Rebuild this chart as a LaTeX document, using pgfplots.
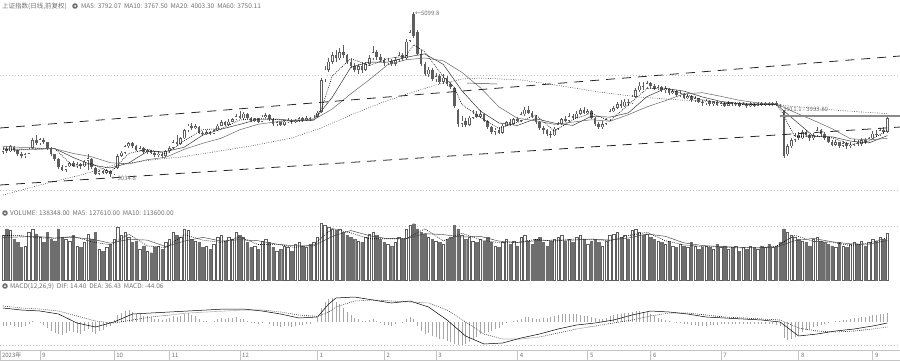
\documentclass[border=0pt]{standalone}
\usepackage{pgfplots}
\pgfplotsset{compat=1.18}
\usepackage{pgfplotstable}
\usepackage{fontspec}
\newfontfamily\cjk{Noto Sans CJK SC}
\definecolor{cdark}{HTML}{5E5E5E}
\definecolor{ctext}{HTML}{707070}
\definecolor{cgrid}{HTML}{C4C4C4}
\definecolor{cline}{HTML}{8A8A8A}

\pgfplotstableread{
i o h l c v m
0 3350 3410 3330 3390 130 -20
1 3390 3420 3340 3360 150 -20
2 3360 3440 3350 3420 145 -15
3 3410 3430 3350 3370 120 -20
4 3370 3380 3300 3330 110 -25
5 3330 3350 3270 3300 95 -25
6 3300 3340 3270 3320 100 -20
7 3330 3400 3320 3390 140 -10
8 3400 3520 3390 3500 150 5
9 3500 3560 3440 3460 135 0
10 3460 3530 3440 3510 125 -5
11 3500 3520 3450 3470 110 -15
12 3470 3480 3380 3400 140 -30
13 3400 3410 3300 3320 120 -45
14 3320 3330 3240 3260 115 -55
15 3260 3270 3140 3160 150 -60
16 3160 3190 3110 3130 125 -65
17 3130 3180 3100 3170 120 -55
18 3170 3230 3160 3210 115 -45
19 3210 3240 3160 3180 130 -50
20 3180 3220 3150 3200 100 -55
21 3200 3210 3140 3170 95 -60
22 3170 3250 3160 3230 110 -45
23 3240 3330 3120 3270 135 -35
24 3260 3270 3140 3160 120 -50
25 3150 3160 3060 3080 140 -60
26 3080 3130 3060 3110 90 -45
27 3110 3130 3070 3090 85 -40
28 3090 3140 3070 3120 95 -25
29 3110 3120 3035 3070 105 -20
30 3070 3150 3060 3140 120 10
31 3150 3320 3140 3300 155 35
32 3300 3360 3290 3340 130 45
33 3340 3440 3330 3420 140 55
34 3420 3480 3400 3460 125 60
35 3460 3480 3400 3420 110 50
36 3420 3440 3360 3380 115 40
37 3380 3420 3360 3400 90 40
38 3400 3410 3330 3350 100 30
39 3350 3390 3330 3370 85 30
40 3370 3380 3320 3340 80 25
41 3340 3360 3290 3310 95 15
42 3310 3360 3290 3330 100 15
43 3330 3350 3280 3300 90 10
44 3300 3380 3290 3360 110 15
45 3360 3420 3340 3400 120 20
46 3400 3500 3390 3470 140 30
47 3470 3560 3430 3450 130 25
48 3450 3540 3440 3520 125 30
49 3520 3640 3510 3620 150 40
50 3620 3700 3600 3680 145 45
51 3680 3710 3630 3650 120 35
52 3650 3700 3640 3670 115 30
53 3660 3670 3570 3590 110 15
54 3590 3610 3550 3570 95 5
55 3570 3620 3560 3600 100 5
56 3600 3610 3560 3580 90 0
57 3580 3640 3570 3620 105 5
58 3620 3700 3610 3680 125 15
59 3680 3750 3670 3720 130 20
60 3720 3740 3670 3690 115 15
61 3690 3760 3680 3730 125 20
62 3730 3780 3720 3760 120 20
63 3760 3830 3750 3800 140 25
64 3800 3860 3760 3770 130 15
65 3770 3850 3750 3830 125 15
66 3830 3840 3760 3780 110 5
67 3780 3790 3720 3740 95 -5
68 3740 3780 3720 3760 100 -5
69 3760 3780 3710 3730 90 -10
70 3730 3810 3720 3790 115 -5
71 3790 3840 3780 3810 120 0
72 3810 3820 3740 3760 110 -10
73 3760 3770 3680 3700 95 -20
74 3700 3740 3680 3720 85 -20
75 3720 3730 3670 3690 90 -25
76 3690 3750 3680 3730 100 -20
77 3730 3770 3710 3750 95 -20
78 3750 3760 3700 3720 85 -25
79 3720 3760 3710 3740 105 -20
80 3740 3790 3730 3770 110 -15
81 3770 3790 3730 3750 100 -15
82 3750 3800 3740 3770 95 -10
83 3770 3790 3740 3760 105 -10
84 3760 3810 3750 3790 110 0
85 3790 3860 3780 3840 125 20
86 3850 4270 3840 4250 165 70
87 4260 4420 4230 4380 160 100
88 4380 4520 4350 4480 155 115
89 4480 4600 4450 4560 150 120
90 4560 4620 4470 4520 145 100
91 4520 4650 4500 4600 150 90
92 4600 4690 4520 4560 140 70
93 4560 4580 4450 4480 130 50
94 4480 4510 4400 4430 125 35
95 4430 4460 4350 4380 120 20
96 4380 4450 4330 4420 115 15
97 4420 4470 4340 4380 110 5
98 4380 4480 4360 4450 125 5
99 4450 4560 4430 4520 135 10
100 4520 4680 4500 4600 140 15
101 4600 4620 4500 4540 130 5
102 4540 4570 4470 4500 120 -5
103 4500 4530 4420 4460 110 -15
104 4460 4520 4440 4490 105 -15
105 4490 4510 4420 4450 100 -20
106 4450 4540 4430 4500 110 -10
107 4500 4600 4480 4560 125 0
108 4560 4590 4490 4520 120 -5
109 4520 4760 4500 4730 150 15
110 4740 4880 4720 4850 160 25
111 5070 5100 4780 4800 165 15
112 4850 4880 4560 4580 150 -20
113 4580 4620 4420 4450 140 -45
114 4450 4480 4300 4320 135 -60
115 4320 4410 4290 4380 125 -55
116 4380 4400 4240 4260 120 -70
117 4260 4340 4220 4300 115 -75
118 4300 4330 4200 4230 110 -85
119 4230 4320 4200 4280 105 -85
120 4280 4300 4170 4200 120 -95
121 4200 4230 4140 4160 125 -100
122 4150 4160 3900 3920 160 -110
123 3880 3890 3660 3700 150 -115
124 3700 3800 3660 3740 130 -115
125 3740 3780 3660 3690 120 -110
126 3690 3800 3680 3780 125 -100
127 3780 3880 3760 3830 115 -85
128 3830 3860 3770 3790 110 -75
129 3790 3870 3770 3820 120 -60
130 3820 3830 3720 3740 115 -55
131 3740 3750 3640 3660 125 -50
132 3660 3680 3580 3600 110 -45
133 3600 3650 3560 3630 100 -35
134 3630 3660 3570 3590 95 -30
135 3590 3700 3580 3680 110 -15
136 3680 3740 3670 3720 120 -5
137 3720 3760 3680 3700 105 0
138 3700 3780 3690 3760 115 5
139 3760 3790 3720 3740 100 10
140 3740 3850 3730 3820 125 15
141 3820 3910 3800 3880 130 25
142 3880 3920 3820 3840 115 25
143 3840 3860 3780 3800 105 20
144 3800 3810 3700 3720 120 15
145 3720 3740 3630 3650 125 15
146 3650 3680 3580 3620 110 20
147 3620 3640 3550 3580 100 20
148 3580 3610 3525 3560 115 25
149 3560 3660 3550 3640 120 30
150 3640 3720 3630 3700 125 35
151 3700 3780 3690 3760 130 40
152 3760 3800 3720 3740 115 40
153 3740 3840 3730 3800 120 40
154 3800 3830 3750 3780 110 40
155 3780 3860 3770 3830 125 40
156 3830 3900 3810 3870 130 35
157 3870 3910 3820 3840 120 30
158 3840 3890 3820 3860 105 30
159 3860 3870 3760 3780 115 25
160 3780 3790 3680 3700 120 20
161 3700 3720 3640 3660 110 15
162 3660 3740 3640 3700 100 15
163 3700 3780 3690 3760 115 20
164 3760 3890 3740 3860 130 30
165 3860 3930 3850 3900 135 35
166 3900 3980 3890 3950 140 40
167 3950 4000 3900 3920 125 40
168 3920 4010 3910 3980 130 45
169 3980 4010 3930 3960 120 45
170 3960 4060 3950 4040 145 50
171 4040 4150 4020 4120 150 55
172 4120 4220 4100 4180 140 55
173 4180 4230 4130 4160 130 50
174 4160 4240 4140 4210 135 50
175 4210 4230 4150 4180 125 40
176 4180 4200 4120 4140 120 30
177 4140 4190 4120 4160 115 20
178 4160 4180 4100 4120 110 15
179 4120 4170 4090 4140 105 10
180 4140 4150 4060 4090 115 5
181 4090 4140 4070 4110 100 0
182 4110 4120 4040 4060 95 -5
183 4060 4110 4040 4080 105 -5
184 4080 4090 4010 4030 100 -10
185 4030 4080 4010 4050 95 -10
186 4050 4060 3980 4000 110 -15
187 4000 4050 3980 4020 100 -15
188 4020 4030 3960 3980 90 -20
189 3980 4000 3930 3960 95 -20
190 3960 4010 3940 3990 100 -20
191 3990 4000 3930 3950 95 -15
192 3950 3990 3930 3970 90 -15
193 3970 3990 3920 3940 105 -15
194 3940 3980 3920 3960 95 -10
195 3960 3970 3910 3930 100 -10
196 3930 3990 3920 3970 90 -10
197 3970 3980 3930 3950 95 -10
198 3950 3980 3930 3960 100 -10
199 3960 3970 3910 3930 85 -10
200 3930 3970 3920 3950 95 -10
201 3950 3960 3900 3920 90 -10
202 3920 3970 3910 3950 100 -10
203 3950 3960 3910 3930 95 -10
204 3930 3980 3920 3960 90 -10
205 3960 3970 3920 3940 100 -10
206 3940 3980 3930 3960 95 -10
207 3960 3970 3920 3940 105 -10
208 3940 3980 3930 3960 95 -10
209 3960 3990 3920 3940 100 -15
210 3940 3950 3910 3930 110 -20
211 3870 3880 3280 3300 150 -80
212 3320 3450 3300 3420 140 -90
213 3420 3530 3400 3500 130 -85
214 3500 3590 3480 3560 125 -75
215 3560 3600 3500 3520 120 -65
216 3520 3630 3510 3600 115 -50
217 3600 3620 3540 3560 110 -40
218 3560 3580 3490 3520 100 -35
219 3520 3590 3500 3560 120 -25
220 3560 3660 3550 3620 125 -20
221 3620 3640 3550 3580 115 -15
222 3580 3600 3500 3520 110 -10
223 3520 3540 3460 3480 105 -5
224 3480 3500 3420 3440 100 0
225 3440 3500 3420 3470 95 5
226 3470 3480 3400 3430 110 5
227 3430 3490 3410 3460 100 10
228 3460 3470 3390 3420 95 10
229 3420 3470 3400 3440 105 15
230 3440 3510 3420 3480 110 20
231 3480 3500 3430 3450 105 20
232 3450 3520 3430 3500 115 25
233 3500 3520 3450 3470 100 25
234 3470 3540 3460 3520 110 30
235 3520 3610 3510 3580 120 35
236 3580 3620 3540 3560 115 35
237 3560 3650 3550 3620 125 40
238 3620 3660 3580 3600 120 40
239 3600 3790 3590 3770 138 45
}\prices

\pgfplotstableread{
i v
0 3380
4 3374
9 3394
14 3392
19 3170
24 3206
29 3094
34 3332
39 3384
44 3328
49 3492
54 3632
59 3640
64 3750
69 3768
74 3756
79 3726
84 3768
86 3882
89 4302
94 4518
99 4430
104 4518
109 4552
111 4692
114 4600
119 4290
122 4158
124 3944
129 3782
134 3644
139 3720
144 3812
149 3610
154 3756
159 3836
164 3736
169 3942
174 4142
179 4148
184 4074
189 4002
194 3962
199 3948
204 3942
209 3948
211 3814
212 3710
214 3542
219 3552
224 3528
229 3444
234 3484
239 3626
}\maFive

\pgfplotstableread{
i v
0 3390
4 3385
9 3384
14 3393
19 3281
24 3188
29 3150
34 3213
39 3358
44 3356
49 3410
54 3562
59 3636
64 3695
69 3759
74 3762
79 3741
84 3747
89 4035
94 4410
99 4474
104 4474
109 4535
114 4576
119 4445
124 4117
129 3863
134 3713
139 3682
144 3766
149 3711
154 3683
159 3796
164 3786
169 3839
174 4042
179 4145
184 4111
189 4038
194 3982
199 3955
204 3945
209 3945
214 3745
219 3547
224 3540
229 3486
234 3464
239 3555
}\maTen

\pgfplotstableread{
i v
0 3420
4 3410
9 3400
14 3390
19 3332
24 3290
29 3216
34 3200
39 3254
44 3284
49 3384
54 3459
59 3523
64 3628
69 3697
74 3728
79 3750
84 3754
89 3888
94 4078
99 4254
104 4442
109 4504
114 4525
119 4490
124 4346
129 4154
134 3915
139 3772
144 3740
149 3696
154 3724
159 3753
164 3734
169 3817
174 3914
179 3992
184 4076
189 4092
194 4046
199 3996
204 3964
209 3950
214 3845
219 3746
224 3642
229 3516
234 3502
239 3520
}\maTwenty

\pgfplotstableread{
i v
0 2812
10 2937
21 3062
30 3187
40 3250
48 3287
57 3350
67 3425
78 3525
86 3650
94 3812
102 3962
110 4087
117 4187
124 4262
129 4275
140 4250
151 4175
161 4100
172 4037
183 4000
194 3975
205 3950
210 3937
221 3887
232 3850
239 3830
}\maSixty

\pgfplotstableread{
i a b
0 130 125
4 131 126
9 124 128
14 122 123
19 128 125
24 112 120
29 103 108
34 134 119
39 100 117
44 95 98
49 133 114
54 117 125
59 110 114
64 126 118
69 104 115
74 105 105
79 95 100
84 104 100
89 151 128
94 138 145
99 121 130
104 121 121
109 121 121
114 150 136
119 115 133
124 137 126
129 118 128
134 109 114
139 110 110
144 119 115
149 114 117
154 120 117
159 119 120
164 115 117
169 130 123
174 140 135
179 115 128
184 103 109
189 98 101
194 97 98
199 94 96
204 94 94
209 99 97
214 131 115
219 113 122
224 111 112
229 101 106
234 108 105
239 124 116
}\vma

\pgfplotstableread{
i dif dea
0 70 80
5 60 70
10 55 65
15 40 55
20 -5 30
25 -25 5
30 0 -5
35 40 10
40 45 25
45 50 35
50 55 45
55 60 50
60 65 55
65 65 60
70 55 60
75 40 50
80 20 35
85 25 28
88 90 50
90 120 75
95 125 105
100 110 110
105 95 105
110 105 100
115 75 95
120 10 60
125 -70 0
130 -110 -60
135 -105 -85
140 -80 -85
145 -60 -75
150 -35 -55
155 -15 -35
160 -5 -20
165 10 -5
170 35 10
175 55 30
180 50 45
185 40 45
190 25 35
195 20 25
200 15 20
205 10 15
210 0 10
215 -70 -30
220 -60 -45
225 -45 -50
230 -35 -45
235 -20 -35
239 -5 -25
}\macd

\pgfplotstableread{
i t
10 1
30 1
45 1
64 1
85 1
103 1
117 1
139 1
158 1
175 1
194 1
215 1
235 1
}\months

\begin{document}
\begin{tikzpicture}
\useasboundingbox (0pt,0pt) rectangle (900pt,360pt);
\pgfplotsset{panel/.style={scale only axis, width=900pt, xmin=-0.8, xmax=242.4, hide axis, anchor=north west}}
\tikzset{lbl/.style={anchor=west, inner sep=0pt, text=ctext, font=\cjk\fontsize{6.5}{7}\selectfont}}

% grid lines
\draw[cgrid, line width=0.5pt, dash pattern=on 1pt off 2pt] (0pt,285pt) -- (900pt,285pt);
\draw[cgrid, line width=0.5pt, dash pattern=on 1pt off 2pt] (0pt,170pt) -- (900pt,170pt);
\draw[cgrid, line width=0.5pt, dash pattern=on 1pt off 2pt] (0pt,134pt) -- (900pt,134pt);
\draw[cgrid, line width=0.5pt, dash pattern=on 1pt off 2pt] (0pt,15pt) -- (900pt,15pt);

% ---------------- price panel
\begin{axis}[panel, at={(0pt,360pt)}, height=205pt, ymin=2687.5, ymax=5250]
\addplot[forget plot, draw=none, error bars/.cd, y dir=plus, y explicit, error mark=none,
  error bar style={draw=cdark, line width=0.6pt}]
  table[x=i, y=l, y error expr=\thisrow{h}-\thisrow{l}] {\prices};
\addplot[forget plot, draw=none, error bars/.cd, y dir=plus, y explicit, error mark=none,
  error bar style={draw=cdark, line width=2.6pt}]
  table[x=i, y expr={min(\thisrow{o},\thisrow{c})}, y error expr={abs(\thisrow{c}-\thisrow{o})}] {\prices};
\addplot[forget plot, draw=none, restrict expr to domain={\thisrow{c}-\thisrow{o}}{15:100000},
  error bars/.cd, y dir=plus, y explicit, error mark=none,
  error bar style={draw=white, line width=1.4pt}]
  table[x=i, y expr={\thisrow{o}+7}, y error expr={\thisrow{c}-\thisrow{o}-14}] {\prices};
% moving averages
\addplot[black, line width=0.6pt, dash pattern=on 0.8pt off 1.2pt] table[x=i,y=v] {\maFive};
\addplot[black!85, line width=0.45pt] table[x=i,y=v] {\maTen};
\addplot[black!60, line width=0.5pt] table[x=i,y=v] {\maTwenty};
\addplot[black!80, line width=0.5pt, dash pattern=on 0.8pt off 1.5pt] table[x=i,y=v] {\maSixty};
\addplot[black!70, line width=0.5pt] coordinates {(125.4,4212) (133.5,4200)};
% channel lines
\addplot[black!85, line width=0.8pt, dash pattern=on 9pt off 7pt] coordinates {(-0.8,3650) (242.4,4550)};
\addplot[black!85, line width=0.8pt, dash pattern=on 9pt off 7pt] coordinates {(-0.8,2937.5) (242.4,3662)};
% annotation line at right
\addplot[cline, line width=2.6pt] coordinates {(210,3800) (242.4,3800)};
\node[lbl, font=\cjk\fontsize{6}{7}\selectfont] at (axis cs:111.3,5085) {←5099.8};
\node[lbl, font=\cjk\fontsize{6}{7}\selectfont] at (axis cs:29.3,3025) {←3034.8};
\node[lbl, font=\cjk\fontsize{6}{7}\selectfont] at (axis cs:210.8,3887) {3911.1 - 3933.80};
\end{axis}

% ---------------- volume panel
\begin{axis}[panel, at={(0pt,138pt)}, height=58pt, ymin=0, ymax=170]
\addplot[forget plot, ybar, bar width=2.4pt, bar shift=0pt, fill=cdark!90, draw=cdark!90, line width=0.4pt,
  restrict expr to domain={\thisrow{c}-\thisrow{o}}{-100000:-0.5}] table[x=i,y=v] {\prices};
\addplot[forget plot, ybar, bar width=2.4pt, bar shift=0pt, fill=white, draw=cdark, line width=0.5pt,
  restrict expr to domain={\thisrow{c}-\thisrow{o}}{0:100000}] table[x=i,y=v] {\prices};
\addplot[black, line width=0.6pt, dash pattern=on 0.8pt off 1.2pt] table[x=i,y=a] {\vma};
\addplot[black!75, line width=0.45pt] table[x=i,y=b] {\vma};
\end{axis}

% ---------------- MACD panel
\begin{axis}[panel, at={(0pt,70pt)}, height=56pt, ymin=-120, ymax=160]
\addplot[forget plot, ycomb, draw=black!35, line width=0.5pt] table[x=i,y=m] {\prices};
\addplot[black, line width=0.5pt] table[x=i,y=dif] {\macd};
\addplot[black!80, line width=0.6pt, dash pattern=on 0.8pt off 1.2pt] table[x=i,y=dea] {\macd};
\end{axis}

% ---------------- date strip
\begin{axis}[scale only axis, width=900pt, height=10pt, at={(0pt,10pt)}, anchor=north west,
  xmin=-0.8, xmax=242.4, ymin=0, ymax=1, xtick=\empty, ytick=\empty,
  axis line style={cgrid}]
\addplot[forget plot, ycomb, draw=cgrid, line width=0.5pt] table[x=i,y=t] {\months};
\tikzset{dl/.style={anchor=west, inner sep=0pt, text=ctext, font=\cjk\fontsize{6}{6}\selectfont}}
\node[dl] at (axis cs:-0.3,0.5) {2023年};
\node[dl] at (axis cs:10.5,0.5) {9};
\node[dl] at (axis cs:30.6,0.5) {10};
\node[dl] at (axis cs:45.6,0.5) {11};
\node[dl] at (axis cs:64.6,0.5) {12};
\node[dl] at (axis cs:85.6,0.5) {1};
\node[dl] at (axis cs:103.6,0.5) {2};
\node[dl] at (axis cs:117.6,0.5) {3};
\node[dl] at (axis cs:139.6,0.5) {4};
\node[dl] at (axis cs:158.6,0.5) {5};
\node[dl] at (axis cs:175.6,0.5) {6};
\node[dl] at (axis cs:194.6,0.5) {7};
\node[dl] at (axis cs:215.6,0.5) {8};
\node[dl] at (axis cs:235.6,0.5) {9};
\end{axis}

% ---------------- headers
\node[lbl] at (2pt,354pt) {上证指数(日线,前复权)};
\fill[ctext] (75pt,354pt) circle (2.8pt);
\fill[white] (75pt,354pt) circle (1pt);
\node[lbl] at (81pt,354pt) {MA5: 3792.07\ \ MA10: 3767.50\ \ MA20: 4003.30\ \ MA60: 3750.11};
\fill[ctext] (5pt,147pt) circle (2.8pt);
\fill[white] (5pt,147pt) circle (1pt);
\node[lbl] at (10pt,147pt) {VOLUME: 138348.00\ \ MA5: 127610.00\ \ MA10: 113600.00};
\fill[ctext] (5pt,74pt) circle (2.8pt);
\fill[white] (5pt,74pt) circle (1pt);
\node[lbl] at (10pt,74pt) {MACD(12,26,9)\ \ DIF: 14.40\ \ DEA: 36.43\ \ MACD: -44.06};
\end{tikzpicture}
\end{document}
